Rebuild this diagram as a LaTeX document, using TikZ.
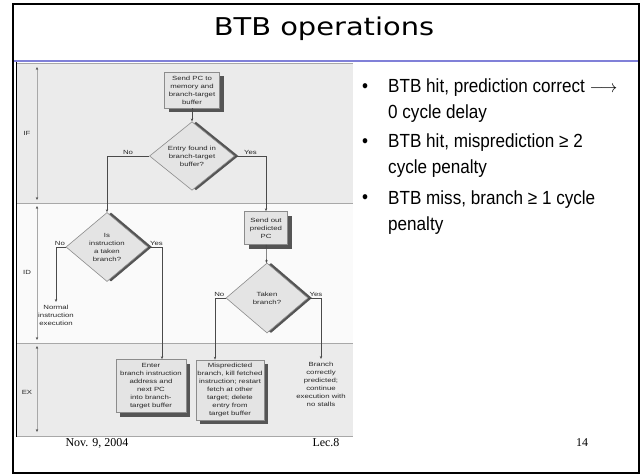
\documentclass[tikz,border=0pt]{standalone}
\usepackage{fontspec}
\usepackage{tikz}
\usetikzlibrary{shapes.geometric,shadows,arrows.meta}
\setmainfont{Liberation Serif}
\newfontfamily\titlefont[FakeStretch=1.18]{DejaVu Sans}
\newfontfamily\bulletfont[FakeStretch=0.9]{Liberation Sans}
\newfontfamily\figfont[FakeStretch=1.3]{Liberation Sans}
\definecolor{BTBBand}{HTML}{EBEBEB}
\definecolor{BTBBox}{HTML}{E4E4E4}
\definecolor{BTBEdge}{HTML}{8C8C8C}
\definecolor{BTBShadow}{HTML}{555555}
\definecolor{BTBLine}{HTML}{4A4A4A}
\definecolor{BTBRule}{HTML}{8080D8}
\definecolor{BTBDivide}{HTML}{A8A8A8}

\begin{document}
\begin{tikzpicture}[x=1pt,y=-1pt,
  figtext/.style={font=\figfont\fontsize{6}{8}\selectfont,align=center,text=black!85},
  stepbox/.style={figtext,draw=BTBEdge,fill=BTBBox,inner sep=1pt,line width=0.6pt,
    drop shadow={shadow xshift=4pt,shadow yshift=-4pt,opacity=1,fill=BTBShadow}},
  test/.style={figtext,diamond,draw=BTBEdge,fill=BTBBox,inner sep=0pt,line width=0.6pt,
    drop shadow={shadow xshift=4pt,shadow yshift=0pt,opacity=1,fill=BTBShadow}},
  flow/.style={BTBLine,line width=0.6pt,-{Stealth[length=3pt,width=2.4pt]}},
  stage/.style={BTBDivide,line width=0.7pt,
    {Stealth[length=3pt,width=2.4pt,BTBLine]}-{Stealth[length=3pt,width=2.4pt,BTBLine]}},
  answer/.style={figtext,above,inner sep=1pt},
  bullettext/.style={font=\bulletfont\fontsize{19}{26}\selectfont,align=left,inner sep=0pt},
  footer/.style={font=\fontsize{12}{14}\selectfont,inner sep=0pt}]
\path[use as bounding box] (0,0) rectangle (643,475);
% slide frame and title
\draw[line width=2pt] (13,4) rectangle (639,473);
\draw[BTBRule,line width=1.6pt] (14,61) -- (638,61);
\node[font=\titlefont\fontsize{24.5}{28}\selectfont] (title) at (324,29) {BTB operations};
% figure background, one band per stage
\fill[BTBBand] (17,63) rectangle (353,203);
\fill[white!98!black] (17,203) rectangle (353,343);
\fill[BTBBand] (17,343) rectangle (353,436);
\draw[BTBDivide,line width=1pt] (17,63) -- (353,63);
\draw[BTBDivide,line width=1pt] (17,203) -- (353,203);
\draw[BTBDivide,line width=1pt] (17,343) -- (353,343);
\draw[BTBDivide,line width=1pt] (17,436) -- (353,436);
\draw[line width=1.2pt] (16.5,62) -- (16.5,437);
\draw[stage] (37,67) -- (37,200);
\draw[stage] (37,206) -- (37,340);
\draw[stage] (37,346) -- (37,432);
\node[figtext] (if) at (27,133) {IF};
\node[figtext] (id) at (27,272) {ID};
\node[figtext] (ex) at (27,392) {EX};
% flowchart
\node[stepbox,minimum width=55,minimum height=36] (sendpc) at (192,90) {Send PC to\\memory and\\branch-target\\buffer};
\node[test,minimum width=85,minimum height=68] (entry) at (192,156) {Entry found in\\branch-target\\buffer?};
\node[test,minimum width=82,minimum height=69] (taken1) at (107,247) {Is\\instruction\\a taken\\branch?};
\node[stepbox,minimum width=43,minimum height=33] (sendout) at (266,228) {Send out\\predicted\\PC};
\node[test,minimum width=82,minimum height=70] (taken2) at (267,298) {Taken\\branch?};
\node[figtext,anchor=north] (normal) at (56,302) {Normal\\instruction\\execution};
\node[stepbox,minimum width=70,minimum height=53] (enter) at (151,386) {Enter\\branch instruction\\address and\\next PC\\into branch-\\target buffer};
\node[stepbox,minimum width=68,minimum height=60] (mispred) at (230,390) {Mispredicted\\branch, kill fetched\\instruction; restart\\fetch at other\\target; delete\\entry from\\target buffer};
\node[figtext,anchor=north] (correct) at (321,359) {Branch\\correctly\\predicted;\\continue\\execution with\\no stalls};
\draw[flow] (sendpc) -- (entry);
\draw[flow] (entry.west) -| node[answer,pos=0.25] {No} (taken1.north);
\draw[flow] (entry.east) -| node[answer,pos=0.25] {Yes} (sendout.north);
\draw[flow] (taken1.west) -| node[answer,pos=0.3] {No} (normal.north);
\draw[flow] (taken1.east) -| node[answer,pos=0.3] {Yes} ([xshift=11pt]enter.north);
\draw[flow] (sendout) -- (taken2);
\draw[flow] (taken2.west) -| node[answer,pos=0.3] {No} ([xshift=-15pt]mispred.north);
\draw[flow] (taken2.east) -| node[answer,pos=0.3] {Yes} (correct.north);
% bullets (base is the last line)
\node[bullettext,anchor=base west] (hit) at (388,118) {BTB hit, prediction correct $\longrightarrow$\\0 cycle delay};
\node[bullettext,anchor=base west] (miss) at (388,173) {BTB hit, misprediction ≥ 2\\cycle penalty};
\node[bullettext,anchor=base west] (cold) at (388,230) {BTB miss, branch ≥ 1 cycle\\penalty};
\node[bullettext,anchor=base] (dot1) at (365,92) {•};
\node[bullettext,anchor=base] (dot2) at (365,147) {•};
\node[bullettext,anchor=base] (dot3) at (365,203) {•};
% footer
\node[footer] (date) at (97,443) {Nov. 9, 2004};
\node[footer] (lec) at (326,443) {Lec.8};
\node[footer] (page) at (582,443) {14};
\end{tikzpicture}
\end{document}
